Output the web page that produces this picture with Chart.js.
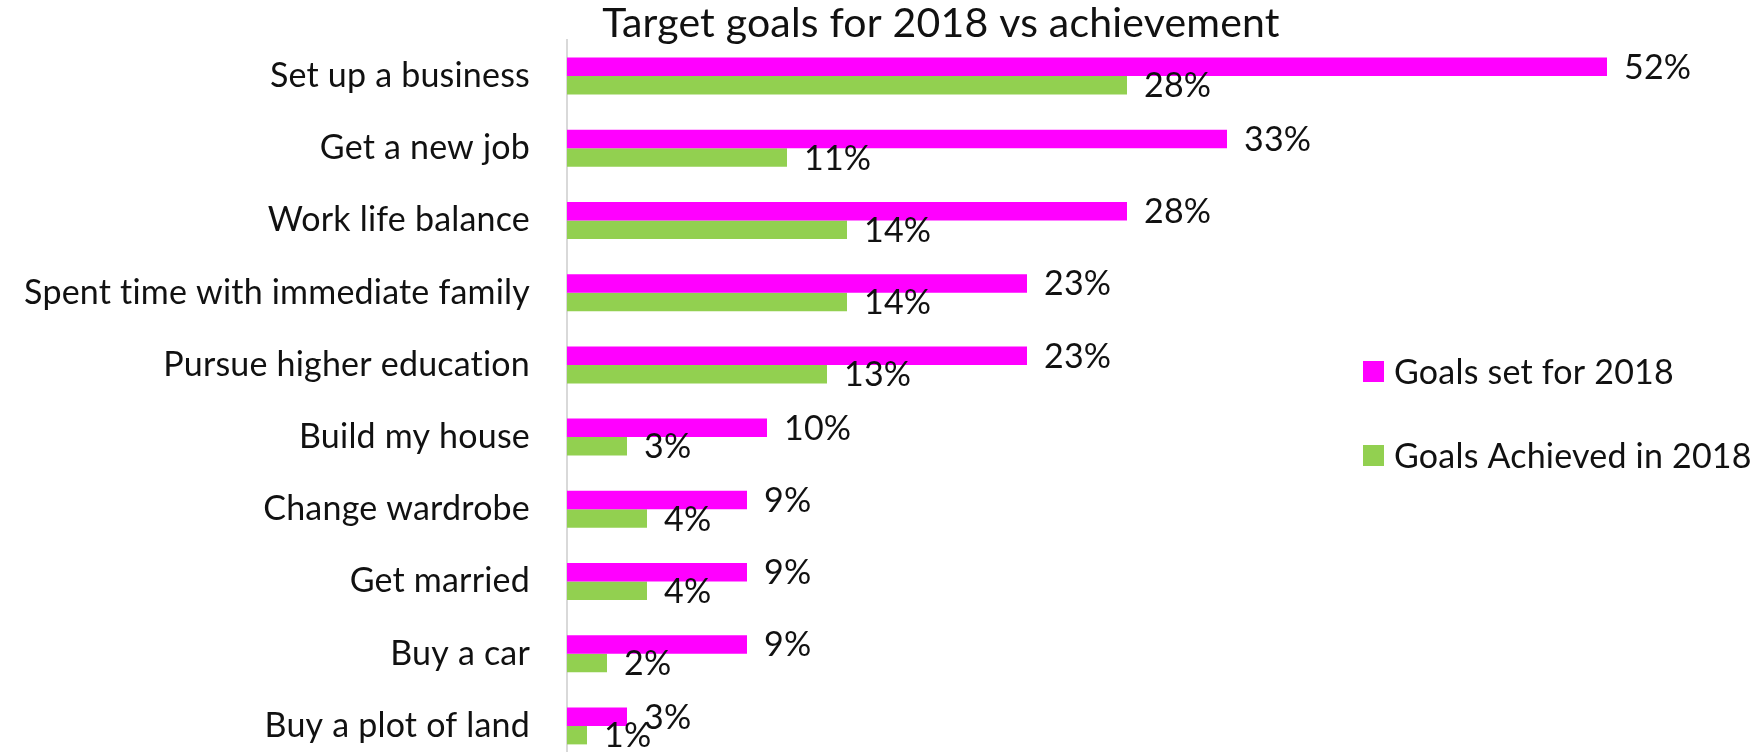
<!DOCTYPE html>
<html>
<head>
<meta charset="utf-8">
<title>Target goals for 2018 vs achievement</title>
<script src="https://cdn.jsdelivr.net/npm/chart.js@4.4.1/dist/chart.umd.min.js"></script>
<style>
  html, body { margin: 0; padding: 0; background: #fff; overflow: hidden; }
  .wrap { position: relative; width: 1750px; height: 762px; }
</style>
</head>
<body>
<div class="wrap"><canvas id="goalsChart"></canvas></div>
<script>
/* ==========================
   DATA
   ========================== */

const categories = [
  'Set up a business',
  'Get a new job',
  'Work life balance',
  'Spent time with immediate family',
  'Pursue higher education',
  'Build my house',
  'Change wardrobe',
  'Get married',
  'Buy a car',
  'Buy a plot of land'
];

const goalsSet = [52, 33, 28, 23, 23, 10, 9, 9, 9, 3];
const goalsAchieved = [28, 11, 14, 14, 13, 3, 4, 4, 2, 1];

const seriesNames = ['Goals set for 2018', 'Goals Achieved in 2018'];
const seriesColors = ['#FF00FF', '#92D050'];

const titleText = 'Target goals for 2018 vs achievement';

/* ==========================
   SCRIPT
   ========================== */

const FONT = 'Lato, "Open Sans", sans-serif';
const TEXT = '#111';

// Matikan ligatur "ti" (sedikit letter spacing)
const noLigature = {
  id: 'noLigature',
  beforeDraw(chart) {
    chart.ctx.letterSpacing = '0.2px';
  }
};

// Judul (di tengah area plot, bukan di tengah canvas)
const plotTitle = {
  id: 'plotTitle',
  afterDraw(chart) {
    const { ctx } = chart;
    ctx.save();
    ctx.font = `41px ${FONT}`;
    ctx.fillStyle = TEXT;
    ctx.textAlign = 'center';
    ctx.textBaseline = 'alphabetic';
    ctx.fillText(titleText, 941, 37);
    ctx.restore();
  }
};

// Label persen di ujung bar
const valueLabels = {
  id: 'valueLabels',
  afterDatasetsDraw(chart) {
    const { ctx } = chart;
    ctx.save();
    ctx.font = `34px ${FONT}`;
    ctx.fillStyle = TEXT;
    ctx.textAlign = 'left';
    ctx.textBaseline = 'middle';
    chart.data.datasets.forEach((ds, i) => {
      chart.getDatasetMeta(i).data.forEach((bar, j) => {
        ctx.fillText(ds.data[j] + '%', bar.x + 17, bar.y + 1);
      });
    });
    ctx.restore();
  }
};

// Legend di kanan
const sideLegend = {
  id: 'sideLegend',
  afterDraw(chart) {
    const { ctx } = chart;
    ctx.save();
    ctx.font = `34px ${FONT}`;
    ctx.textAlign = 'left';
    ctx.textBaseline = 'middle';
    chart.data.datasets.forEach((ds, i) => {
      const y = 372 + i * 84;
      ctx.fillStyle = ds.backgroundColor;
      ctx.fillRect(1363, y - 11, 21, 21);
      ctx.fillStyle = TEXT;
      ctx.fillText(ds.label, 1394, y + 1);
    });
    ctx.restore();
  }
};

const AXIS_LEFT = 567;
const PAD_RIGHT = 83;

new Chart(document.getElementById('goalsChart'), {
  type: 'bar',
  data: {
    labels: categories,
    datasets: [
      { label: seriesNames[0], data: goalsSet, backgroundColor: seriesColors[0] },
      { label: seriesNames[1], data: goalsAchieved, backgroundColor: seriesColors[1] }
    ]
  },
  options: {
    indexAxis: 'y',
    responsive: true,
    maintainAspectRatio: false,
    animation: false,
    datasets: {
      bar: { barPercentage: 1, categoryPercentage: 0.512 }
    },
    layout: { padding: { left: 0, right: PAD_RIGHT, top: 40, bottom: 0 } },
    scales: {
      x: {
        display: false,
        min: 0,
        max: 55,
        grid: { display: false }
      },
      y: {
        grid: { display: false, drawTicks: false },
        border: { display: true, color: '#d9d9d9', width: 2 },
        ticks: {
          padding: 37,
          color: TEXT,
          font: { family: FONT, size: 34 }
        },
        afterFit(scale) {
          scale.width = AXIS_LEFT;
          scale.paddingTop = 0;
          scale.paddingBottom = 0;
        }
      }
    },
    plugins: {
      legend: { display: false },
      tooltip: { enabled: false },
      title: { display: false }
    }
  },
  plugins: [noLigature, plotTitle, valueLabels, sideLegend]
});
</script>
</body>
</html>
